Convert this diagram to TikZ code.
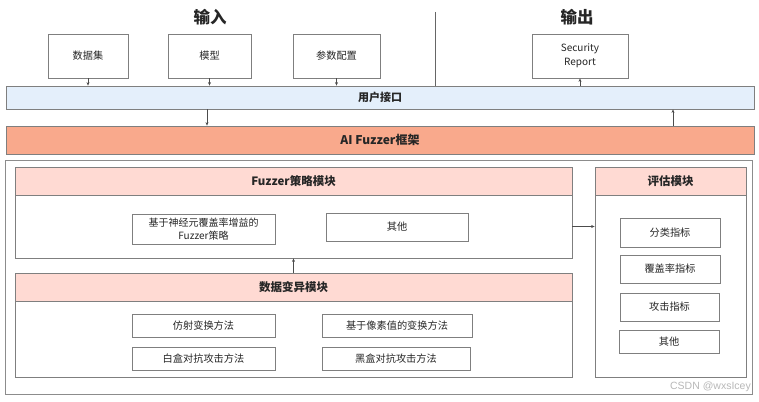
\documentclass[tikz,border=0pt]{standalone}
\usepackage{fontspec}
\setmainfont{Noto Sans CJK SC}
\newfontfamily\wmfont{Liberation Sans}
\usetikzlibrary{arrows.meta}
\definecolor{bordergray}{HTML}{7F7F7F}
\definecolor{uiblue}{HTML}{E4EFFB}
\definecolor{aisalmon}{HTML}{F9A98C}
\definecolor{headpink}{HTML}{FFDAD3}
\tikzset{
  box/.style={draw=bordergray, line width=0.8pt, fill=white, inner sep=0pt, align=center, font=\fontsize{10.2}{13}\selectfont, text=black!85},
  bar/.style={draw=bordergray, line width=0.8pt, inner sep=0pt, font=\bfseries\fontsize{11}{13}\selectfont, text=black!85},
  head/.style={draw=bordergray, line width=0.8pt, fill=headpink, inner sep=0pt, font=\bfseries\fontsize{11.5}{13}\selectfont, text=black!85},
  panel/.style={draw=bordergray, line width=0.8pt, fill=white, inner sep=0pt},
  title/.style={font=\bfseries\fontsize{16.5}{19}\selectfont, text=black!85},
  conn/.style={draw=black!70, line width=0.6pt, -{Stealth[length=3.5pt,width=3pt]}},
}
\begin{document}
\begin{tikzpicture}[x=1pt,y=-1pt]
\useasboundingbox (0,0) rectangle (759,401);
% titles
\node[title] (tin) at (210,17) {输入};
\node[title] (tout) at (577,17) {输出};
% input boxes
\node[box, minimum width=80pt, minimum height=44pt] (ds) at (88,56) {数据集};
\node[box, minimum width=83pt, minimum height=44pt] (mx) at (209.5,56) {模型};
\node[box, minimum width=87pt, minimum height=44pt] (cfg) at (336.5,56) {参数配置};
\node[box, minimum width=96pt, minimum height=44pt, font=\fontsize{10}{14}\selectfont] (sr) at (580,56) {Security\\Report};
% bars
\node[bar, fill=uiblue, minimum width=748pt, minimum height=23pt] (ui) at (380,97.5) {用户接口};
\node[bar, fill=aisalmon, minimum width=748pt, minimum height=28pt, font=\bfseries\fontsize{12}{14}\selectfont] (ai) at (380,140) {AI Fuzzer框架};
% divider
\coordinate (divtop) at (435,12);
\draw[draw=black!60, line width=0.7pt] (divtop) -- (divtop |- ui.north);
% outer frame
\node[panel, draw=black!45, minimum width=747pt, minimum height=234pt] (outer) at (378.5,277) {};
% Fuzzer strategy module
\node[panel, minimum width=557pt, minimum height=63pt] (fzb) at (293.5,226.5) {};
\node[head, minimum width=557pt, minimum height=28pt] (fzh) at (293.5,181) {Fuzzer策略模块};
\node[box, minimum width=143pt, minimum height=30pt, font=\fontsize{10}{13}\selectfont] (nc) at (203.5,229) {基于神经元覆盖率增益的\\Fuzzer策略};
\node[box, minimum width=142pt, minimum height=28pt] (oth1) at (397,227) {其他};
% data mutation module
\node[panel, minimum width=557pt, minimum height=76pt] (dmb) at (293.5,339) {};
\node[head, minimum width=557pt, minimum height=28pt] (dmh) at (293.5,287) {数据变异模块};
\node[box, minimum width=143pt, minimum height=23pt] (fs) at (203.5,325.5) {仿射变换方法};
\node[box, minimum width=143pt, minimum height=23pt] (wb) at (203.5,358.5) {白盒对抗攻击方法};
\node[box, minimum width=150pt, minimum height=23pt] (px) at (397,325.5) {基于像素值的变换方法};
\node[box, minimum width=148pt, minimum height=23pt] (bb) at (396,358.5) {黑盒对抗攻击方法};
% evaluation module
\node[panel, minimum width=151pt, minimum height=182pt] (evb) at (670.5,286) {};
\node[head, minimum width=151pt, minimum height=28pt] (evh) at (670.5,181) {评估模块};
\node[box, minimum width=100pt, minimum height=29pt] (m1) at (670,232.5) {分类指标};
\node[box, minimum width=100pt, minimum height=28pt] (m2) at (670,269) {覆盖率指标};
\node[box, minimum width=99pt, minimum height=28pt] (m3) at (669.5,307) {攻击指标};
\node[box, minimum width=100pt, minimum height=23pt] (m4) at (669,341.5) {其他};
% connectors
\draw[conn] (ds.south) -- (ds.south |- ui.north);
\draw[conn] (mx.south) -- (mx.south |- ui.north);
\draw[conn] (cfg.south) -- (cfg.south |- ui.north);
\draw[conn] (sr.south |- ui.north) -- (sr.south);
\draw[conn] ([xshift=-2.5pt]mx.south |- ui.south) -- ([xshift=-2.5pt]mx.south |- ai.north);
\draw[conn] ([xshift=2.5pt]evh.south |- ai.north) -- ([xshift=2.5pt]evh.south |- ui.south);
\draw[conn] (dmh.north) -- (fzb.south);
\draw[conn] (fzb.east) -- (evb.west |- fzb.east);
% watermark
\node[anchor=east, text=black!28, font=\wmfont\fontsize{10.5}{12}\selectfont, inner sep=0pt] (wm) at (751,387) {CSDN @wxsIcey};
\end{tikzpicture}
\end{document}
